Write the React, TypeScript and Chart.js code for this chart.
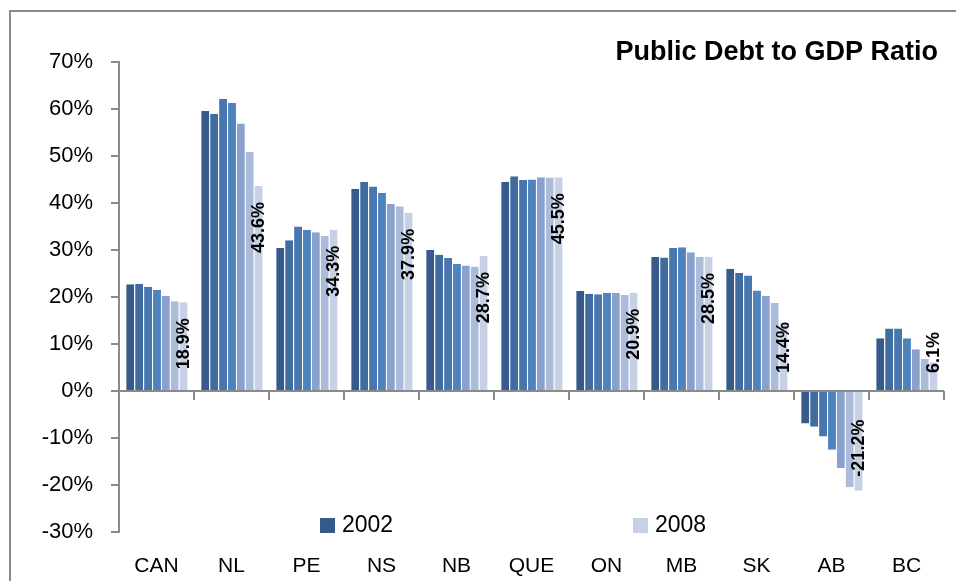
import React, { useEffect, useRef } from "react";
import { Chart, registerables } from "chart.js";

Chart.register(...registerables);

// Provinces / regions along the category axis
const regions = ["CAN", "NL", "PE", "NS", "NB", "QUE", "ON", "MB", "SK", "AB", "BC"];

// Net public debt as % of GDP, one array per fiscal year
const years = ["2002", "2003", "2004", "2005", "2006", "2007", "2008"];
const debt2002 = [22.7, 59.6, 30.4, 43.0, 30.0, 44.5, 21.3, 28.5, 26.0, -6.9, 11.2];
const debt2003 = [22.8, 59.0, 32.1, 44.5, 29.0, 45.7, 20.7, 28.4, 25.1, -7.6, 13.3];
const debt2004 = [22.2, 62.2, 35.0, 43.5, 28.3, 44.9, 20.6, 30.4, 24.6, -9.7, 13.3];
const debt2005 = [21.5, 61.3, 34.3, 42.2, 27.1, 45.0, 20.9, 30.6, 21.4, -12.5, 11.2];
const debt2006 = [20.2, 56.9, 33.8, 39.8, 26.7, 45.5, 20.9, 29.5, 20.2, -16.4, 8.9];
const debt2007 = [19.1, 50.9, 33.0, 39.3, 26.5, 45.4, 20.4, 28.5, 18.7, -20.5, 6.8];
const debt2008 = [18.9, 43.6, 34.3, 37.9, 28.7, 45.5, 20.9, 28.5, 14.4, -21.2, 6.1];

const seriesValues = [debt2002, debt2003, debt2004, debt2005, debt2006, debt2007, debt2008];

// Dark-to-light blue ramp, one shade per year
const yearColors = ["#365b8a", "#406ca0", "#4876af", "#4f83be", "#88a2cd", "#abbcdb", "#c6d1e5"];

// Only the first and last year appear in the key
const legendYears = ["2002", "2008"];

const yTickValues = [-30, -20, -10, 0, 10, 20, 30, 40, 50, 60, 70];

const titleText = "Public Debt to GDP Ratio";

const FONT = "'Liberation Sans', Arial, sans-serif";
const AXIS_GRAY = "#8a8a8a";

const framePlugin = {
  id: "frame",
  beforeDraw(chart: any) {
    const ctx = chart.ctx;
    ctx.save();
    ctx.fillStyle = "#ffffff";
    ctx.fillRect(0, 0, chart.width, chart.height);
    ctx.fillStyle = AXIS_GRAY;
    ctx.fillRect(9, 10, 2, chart.height - 10);
    ctx.fillRect(9, 10, chart.width - 9, 2);
    ctx.restore();
  },
};

const zeroAxisPlugin = {
  id: "zeroAxis",
  afterDatasetsDraw(chart: any) {
    const { ctx, chartArea, scales } = chart;
    const y0 = Math.round(scales.y.getPixelForValue(0));
    const n = regions.length;
    const step = (chartArea.right - chartArea.left) / n;
    ctx.save();
    ctx.strokeStyle = AXIS_GRAY;
    ctx.lineWidth = 2;
    ctx.beginPath();
    ctx.moveTo(chartArea.left, y0);
    ctx.lineTo(chartArea.right, y0);
    for (let i = 1; i <= n; i++) {
      const x = Math.round(chartArea.left + i * step);
      ctx.moveTo(x, y0);
      ctx.lineTo(x, y0 + 9);
    }
    ctx.stroke();
    ctx.restore();
  },
};

const valueLabelPlugin = {
  id: "valueLabels",
  afterDraw(chart: any) {
    const ctx = chart.ctx;
    const last = chart.data.datasets.length - 1;
    const meta = chart.getDatasetMeta(last);
    const values = chart.data.datasets[last].data as number[];
    ctx.save();
    ctx.font = `bold 18px ${FONT}`;
    ctx.fillStyle = "#000000";
    ctx.textBaseline = "middle";
    meta.data.forEach((bar: any, i: number) => {
      const v = values[i];
      const text = `${v.toFixed(1)}%`;
      const w = ctx.measureText(text).width;
      const base = bar.base;
      let topOfText: number;
      if (v >= 0) {
        topOfText = bar.y + 16;
        if (topOfText + w > base - 16) topOfText = base - 17 - w;
      } else {
        topOfText = bar.y - 14 - w;
      }
      const cy = topOfText + w / 2;
      ctx.save();
      ctx.translate(bar.x, cy);
      ctx.rotate(-Math.PI / 2);
      ctx.textAlign = "center";
      ctx.fillText(text, 0, 1);
      ctx.restore();
    });
    ctx.restore();
  },
};

const titleLegendPlugin = {
  id: "titleLegend",
  afterDraw(chart: any) {
    const ctx = chart.ctx;
    ctx.save();
    ctx.fillStyle = "#000000";
    ctx.font = `bold 27px ${FONT}`;
    ctx.textAlign = "right";
    ctx.textBaseline = "alphabetic";
    ctx.fillText(titleText, 938, 60);

    const entryX = [320, 633];
    legendYears.forEach((yr, k) => {
      const idx = years.indexOf(yr);
      const x = entryX[k];
      ctx.fillStyle = yearColors[idx];
      ctx.fillRect(x, 518, 15, 15);
      ctx.fillStyle = "#000000";
      ctx.font = `23px ${FONT}`;
      ctx.textAlign = "left";
      ctx.textBaseline = "middle";
      ctx.fillText(yr, x + 22, 526);
    });
    ctx.restore();
  },
};

export default function App() {
  const canvasRef = useRef<HTMLCanvasElement | null>(null);

  useEffect(() => {
    if (!canvasRef.current) return;
    const chart = new Chart(canvasRef.current, {
      type: "bar",
      data: {
        labels: regions,
        datasets: years.map((yr, i) => ({
          label: yr,
          data: seriesValues[i],
          backgroundColor: yearColors[i],
          borderColor: "rgba(255,255,255,0.35)",
          borderWidth: { left: 1, right: 0, top: 0, bottom: 0 },
          borderSkipped: false,
          categoryPercentage: 0.83,
          barPercentage: 1.0,
        })),
      },
      options: {
        animation: false,
        responsive: true,
        maintainAspectRatio: false,
        layout: { padding: { left: 0, right: 12, top: 62, bottom: 0 } },
        plugins: {
          legend: { display: false },
          title: { display: false },
          tooltip: { enabled: false },
        },
        scales: {
          x: {
            grid: { display: false, drawTicks: false },
            border: { display: false },
            ticks: {
              color: "#000000",
              font: { family: FONT, size: 21 },
              padding: 22,
              maxRotation: 0,
              autoSkip: false,
            },
            afterFit(scale: any) {
              scale.height = 49;
            },
          },
          y: {
            min: -30,
            max: 70,
            afterBuildTicks(scale: any) {
              scale.ticks = yTickValues.map((v) => ({ value: v }));
            },
            grid: {
              drawOnChartArea: false,
              drawTicks: true,
              tickLength: 8,
              color: AXIS_GRAY,
              lineWidth: 2,
            },
            border: { display: true, color: AXIS_GRAY, width: 2 },
            ticks: {
              color: "#000000",
              font: { family: FONT, size: 22 },
              padding: 18,
              callback: (v: any) => `${v}%`,
            },
            afterFit(scale: any) {
              scale.width = 119;
            },
          },
        },
      },
      plugins: [framePlugin, zeroAxisPlugin, valueLabelPlugin, titleLegendPlugin],
    });
    return () => chart.destroy();
  }, []);

  return (
    <div style={{ position: "fixed", left: 0, top: 0, width: 956, height: 581, background: "#ffffff" }}>
      <canvas ref={canvasRef} />
    </div>
  );
}
